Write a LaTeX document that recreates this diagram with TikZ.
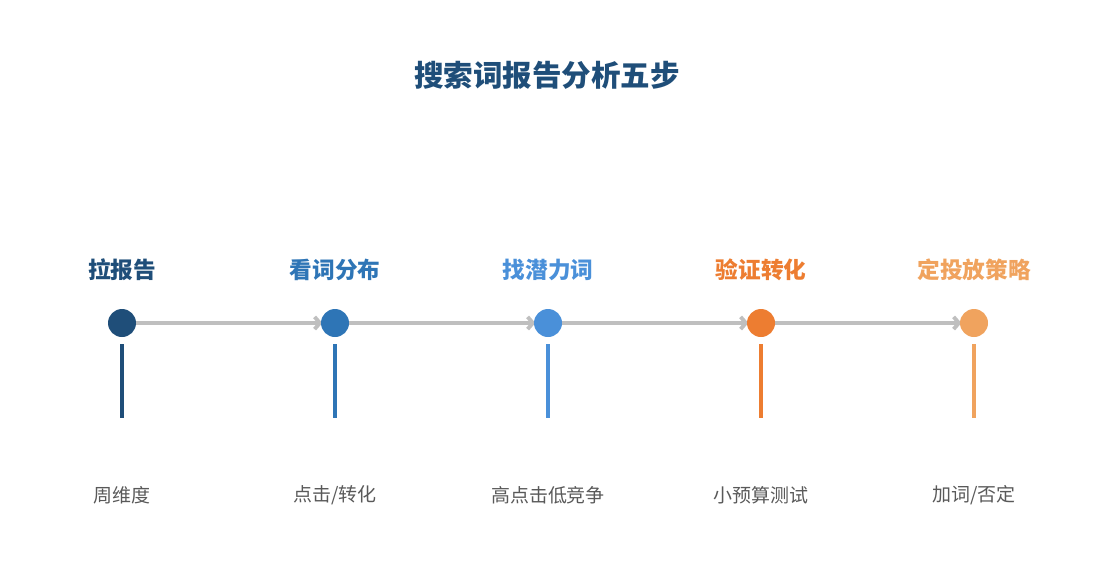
\documentclass[tikz,border=0pt]{standalone}
\usepackage{fontspec}
\setmainfont{Noto Sans CJK SC}
\usetikzlibrary{arrows.meta, backgrounds}
\definecolor{navy}{HTML}{1F4E79}
\definecolor{midblue}{HTML}{2E75B6}
\definecolor{skyblue}{HTML}{4A90D9}
\definecolor{orange}{HTML}{ED7D31}
\definecolor{sand}{HTML}{F0A35E}
\definecolor{track}{HTML}{BFBFBF}
\definecolor{note}{HTML}{595959}
\begin{document}
\begin{tikzpicture}[
        x=0.02cm, y=-0.02cm,
        dot/.style={circle, minimum size=0.56cm, inner sep=0pt},
        forward/.style={draw=track, line width=2.2pt, shorten >=-1pt, -{Straight Barb[length=3pt, width=7pt]}},
        stem/.style={line width=2.3pt},
        head/.style={font=\fontsize{12.9pt}{14pt}\selectfont\bfseries},
        sub/.style={text=note, font=\fontsize{10.8pt}{12pt}\selectfont}
    ]
        \useasboundingbox (0, 0) rectangle (1095, 585);
        \node[text=navy, font=\fontsize{16.8pt}{18pt}\selectfont\bfseries] (title) at (547, 75) {搜索词报告分析五步};
        % steps
        \node[dot, fill=navy] (s1) at (122, 323) {};
        \node[dot, fill=midblue] (s2) at (335, 323) {};
        \node[dot, fill=skyblue] (s3) at (548, 323) {};
        \node[dot, fill=orange] (s4) at (761, 323) {};
        \node[dot, fill=sand] (s5) at (974, 323) {};
        \begin{scope}[on background layer]
            \draw[forward] (s1) -- (s2);
            \draw[forward] (s2) -- (s3);
            \draw[forward] (s3) -- (s4);
            \draw[forward] (s4) -- (s5);
        \end{scope}
        % names
        \node[head, text=navy] (h1) at (122, 270) {拉报告};
        \node[head, text=midblue] (h2) at (335, 270) {看词分布};
        \node[head, text=skyblue] (h3) at (548, 270) {找潜力词};
        \node[head, text=orange] (h4) at (761, 270) {验证转化};
        \node[head, text=sand] (h5) at (974, 270) {定投放策略};
        % stems
        \coordinate (t1) at (122, 344); \coordinate (b1) at (122, 418);
        \coordinate (t2) at (335, 344); \coordinate (b2) at (335, 418);
        \coordinate (t3) at (548, 344); \coordinate (b3) at (548, 418);
        \coordinate (t4) at (761, 344); \coordinate (b4) at (761, 418);
        \coordinate (t5) at (974, 344); \coordinate (b5) at (974, 418);
        \draw[stem, navy] (t1) -- (b1);
        \draw[stem, midblue] (t2) -- (b2);
        \draw[stem, skyblue] (t3) -- (b3);
        \draw[stem, orange] (t4) -- (b4);
        \draw[stem, sand] (t5) -- (b5);
        % notes
        \node[sub] (n1) at (122, 495) {周维度};
        \node[sub] (n2) at (335, 495) {点击/转化};
        \node[sub] (n3) at (548, 495) {高点击低竞争};
        \node[sub] (n4) at (761, 495) {小预算测试};
        \node[sub] (n5) at (974, 495) {加词/否定};
    \end{tikzpicture}
\end{document}
